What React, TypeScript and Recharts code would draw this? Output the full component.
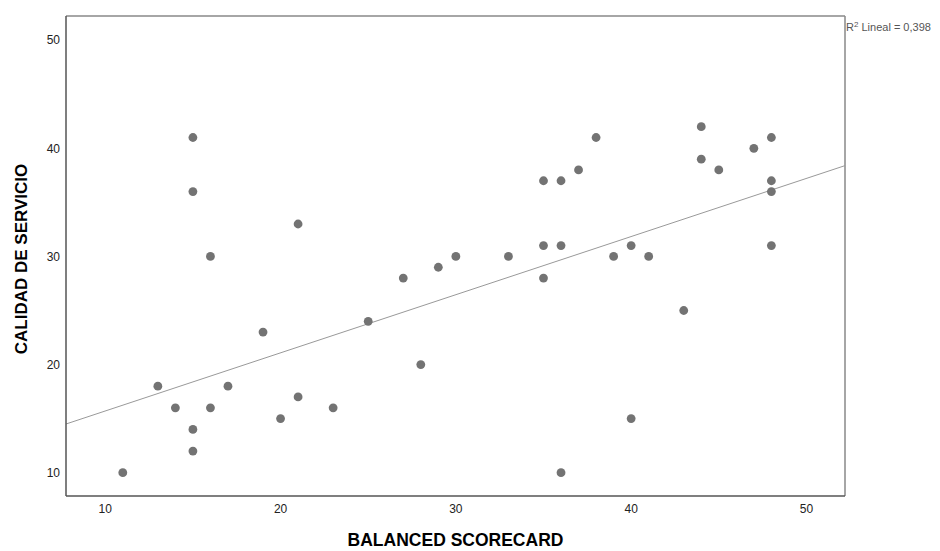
import React from "react";
import {
  ScatterChart,
  Scatter,
  XAxis,
  YAxis,
  ReferenceLine,
  Label,
} from "recharts";

const balancedScorecard = [
  11, 13, 14, 15, 15, 15, 15, 16, 16, 17, 19, 20, 21, 21, 23,
  25, 27, 28, 29, 30, 33, 35, 35, 35, 36, 36, 36, 37, 38, 39,
  40, 40, 41, 43, 44, 44, 45, 47, 48, 48, 48, 48,
];
const calidadServicio = [
  10, 18, 16, 41, 36, 14, 12, 30, 16, 18, 23, 15, 33, 17, 16,
  24, 28, 20, 29, 30, 30, 37, 31, 28, 37, 31, 10, 38, 41, 30,
  31, 15, 30, 25, 42, 39, 38, 40, 41, 37, 36, 31,
];
const xTicks = [10, 20, 30, 40, 50];
const yTicks = [10, 20, 30, 40, 50];
const xDomain = [7.76, 52.2];
const yDomain = [7.84, 52.24];
const fitX = [7.76, 52.2];
const fitY = [14.5, 38.4];
const r2Label = "Lineal = 0,398";

const points = balancedScorecard.map((x, i) => ({ x, y: calidadServicio[i] }));

const FONT = '"Liberation Sans", Arial, sans-serif';

const Dot = (props: any) => (
  <circle cx={props.cx} cy={props.cy} r={4.4} fill="#737373" />
);

export default function App() {
  return (
    <div style={{ position: "absolute", left: 0, top: 0, background: "#fff" }}>
      <ScatterChart
        width={940}
        height={551}
        margin={{ top: 16, right: 95, bottom: 0, left: 0 }}
        style={{ fontFamily: FONT }}
      >
        <XAxis
          type="number"
          dataKey="x"
          domain={xDomain}
          ticks={xTicks}
          allowDataOverflow
          height={55}
          tickLine={false}
          tickSize={0}
          tickMargin={8}
          axisLine={{ stroke: "#555", strokeWidth: 1.5 }}
          tick={{ fill: "#222", fontSize: 12, fontFamily: FONT }}
        >
          <Label
            content={({ viewBox }: any) => (
              <text
                x={viewBox.x + viewBox.width / 2}
                y={viewBox.y + 50}
                textAnchor="middle"
                fontSize={17.5}
                fontWeight="bold"
                fill="#000"
                fontFamily={FONT}
              >
                BALANCED SCORECARD
              </text>
            )}
          />
        </XAxis>
        <YAxis
          type="number"
          dataKey="y"
          domain={yDomain}
          ticks={yTicks}
          allowDataOverflow
          width={66}
          tickLine={false}
          tickSize={0}
          tickMargin={6}
          axisLine={{ stroke: "#555", strokeWidth: 1.5 }}
          tick={{ fill: "#222", fontSize: 12, fontFamily: FONT }}
        >
          <Label
            content={({ viewBox }: any) => {
              const cx = viewBox.x + 21;
              const cy = viewBox.y + viewBox.height / 2 + 3;
              return (
                <text
                  x={cx}
                  y={cy}
                  transform={`rotate(-90, ${cx}, ${cy})`}
                  textAnchor="middle"
                  dominantBaseline="central"
                  fontSize={17}
                  fontWeight="bold"
                  fill="#000"
                  fontFamily={FONT}
                >
                  CALIDAD DE SERVICIO
                </text>
              );
            }}
          />
        </YAxis>
        <ReferenceLine
          y={yDomain[1]}
          stroke="#888"
          strokeWidth={1.5}
          ifOverflow="extendDomain"
          label={{
            content: ({ viewBox }: any) => (
              <text
                x={viewBox.x + viewBox.width + 1}
                y={viewBox.y + 15}
                fontSize={11}
                fill="#555"
                fontFamily={FONT}
              >
                R
                <tspan fontSize={8} dy={-4}>2</tspan>
                <tspan dy={4}> {r2Label}</tspan>
              </text>
            ),
          }}
        />
        <ReferenceLine x={xDomain[1]} stroke="#888" strokeWidth={1.5} />
        <ReferenceLine
          segment={[
            { x: fitX[0], y: fitY[0] },
            { x: fitX[1], y: fitY[1] },
          ]}
          stroke="#999"
          strokeWidth={1}
        />
        <Scatter
          data={points}
          shape={<Dot />}
          isAnimationActive={false}
        />
      </ScatterChart>
    </div>
  );
}
